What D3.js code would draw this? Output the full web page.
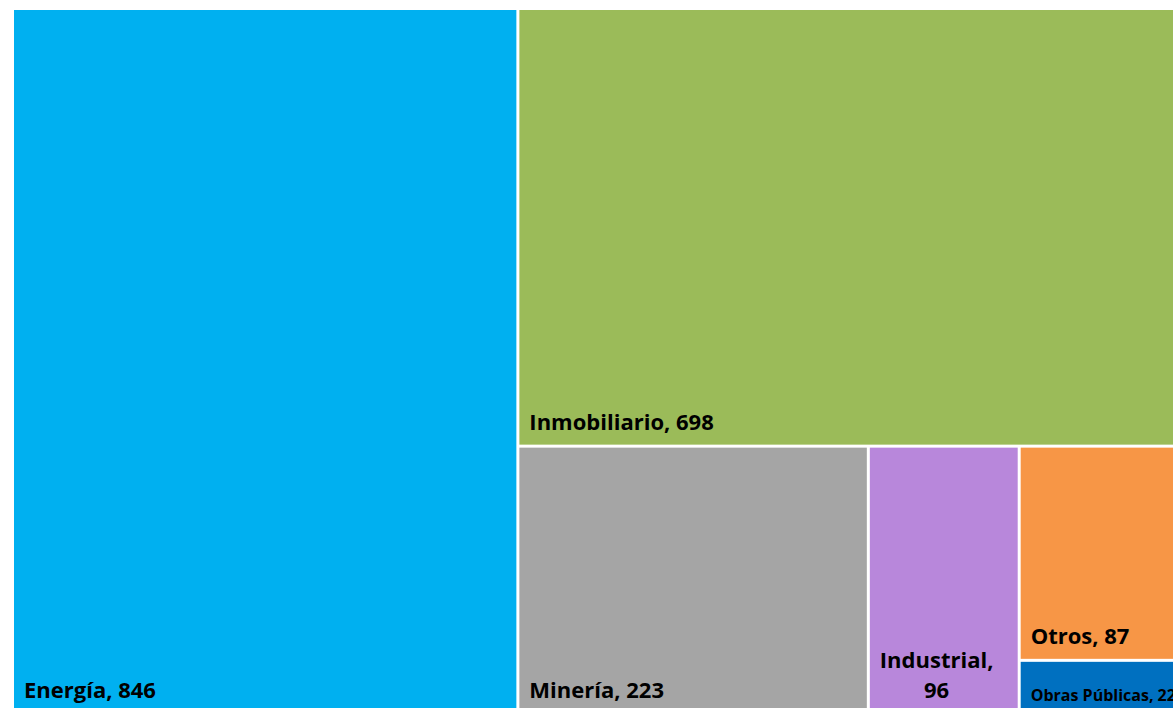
<!DOCTYPE html>
<html>
<head>
<meta charset="utf-8">
<script src="https://cdn.jsdelivr.net/npm/d3@7"></script>
<style>
  html, body { margin: 0; padding: 0; background: #fff; overflow: hidden; }
  text { font-family: "Open Sans", Lato, sans-serif; font-weight: bold; fill: #000; }
</style>
</head>
<body>
<svg id="chart" width="1173" height="708"></svg>
<script>
// Sectors and amounts
var categories = ["Energía", "Inmobiliario", "Minería", "Industrial", "Otros", "Obras Públicas"];
var values = [846, 698, 223, 96, 87, 22];
var colors = ["#00B0F0", "#9BBB59", "#A5A5A5", "#B887DB", "#F79646", "#0070C0"];

// Build nested tree (Excel-like layout: column, row, column...)
var leaves = categories.map(function(c, i) {
  return {name: c, value: values[i], color: colors[i]};
});
var tree = {children: [leaves[0], {children: [leaves[1], {children: [leaves[2], leaves[3], {children: [leaves[4], leaves[5]]}]}]}]};

var svg = d3.select("#chart");
// the plot area runs past the window on the right and bottom
var area = {x: 14, y: 10, w: 1175, h: 703};

var root = d3.hierarchy(tree)
  .sum(function(d) { return d.value || 0; });

d3.treemap()
  .tile(d3.treemapSliceDice)
  .size([area.w, area.h])
  .paddingInner(3)
  .round(false)(root);

var g = svg.append("g")
  .attr("transform", "translate(" + area.x + "," + area.y + ")");

var cell = g.selectAll("g.cell")
  .data(root.leaves())
  .enter().append("g")
  .attr("class", "cell");

cell.append("rect")
  .attr("x", function(d) { return d.x0; })
  .attr("y", function(d) { return d.y0; })
  .attr("width", function(d) { return d.x1 - d.x0; })
  .attr("height", function(d) { return d.y1 - d.y0; })
  .style("fill", function(d) { return d.data.color; });

cell.each(function(d) {
  var small = d.data.value < 50;
  var fs = small ? 16 : 22;
  var label = d.data.name + ", " + d.data.value;
  var t = d3.select(this).append("text")
    .style("font-size", fs + "px")
    .attr("x", d.x0 + 10)
    .attr("y", d.y1 - (small ? 12 : 15))
    .text(label);
  var w = t.node().getComputedTextLength();
  if (w > d.x1 - d.x0 - 14) {
    // wrap on the comma, centre the two lines on the label block
    var parts = [d.data.name + ",", String(d.data.value)];
    t.text(null);
    var tmp = t.append("tspan").text(parts[0]);
    var bw = tmp.node().getComputedTextLength();
    tmp.remove();
    var cx = d.x0 + 10 + bw / 2;
    t.attr("text-anchor", "middle");
    t.append("tspan").attr("x", cx).attr("dy", "-30").text(parts[0]);
    t.append("tspan").attr("x", cx).attr("dy", "30").text(parts[1]);
  }
});
</script>
</body>
</html>
